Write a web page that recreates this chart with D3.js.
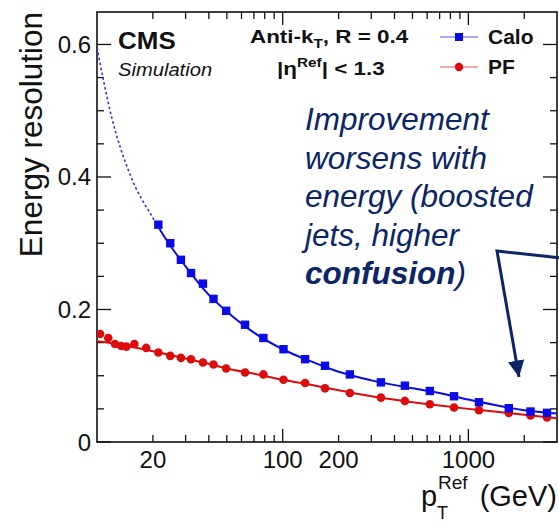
<!DOCTYPE html>
<html lang="en">
  <head>
    <meta charset="UTF-8" />
    <title>Jet energy resolution: Calo vs PF</title>
    <style>
      body {
        margin: 0;
        background: #fff;
      }
      svg text {
        font-family: "Liberation Sans", Arial, Helvetica, sans-serif;
        fill: #111;
      }
      .frame {
        fill: none;
        stroke: #111;
        stroke-width: 1.6px;
      }
      .tick {
        stroke: #111;
        stroke-width: 1.3px;
      }
      .note {
        fill: #0b2566;
        font-style: italic;
        font-size: 31.5px;
      }
    </style>
  </head>
  <body>
    <svg width="559" height="522"></svg>

    <script src="https://d3js.org/d3.v7.min.js"></script>
    <script>
      // PF jets (red circles)
      const pfPt = [10.4, 11.5, 12.5, 13.5, 14.4, 15.9, 18.4, 21.4, 24.8, 28.3, 32.1, 37.2, 42.4, 49.6,
        62.7, 78.7, 101, 132, 169, 230, 338, 455, 620, 837, 1140, 1650, 2160, 2650];
      const pfRes = [0.163, 0.157, 0.148, 0.145, 0.144, 0.148, 0.142, 0.135, 0.130, 0.127, 0.125, 0.120, 0.117, 0.111,
        0.105, 0.102, 0.094, 0.089, 0.081, 0.074, 0.067, 0.062, 0.057, 0.052, 0.048, 0.044, 0.040, 0.037];

      // Calo jets (blue squares)
      const caloPt = [21.4, 24.8, 28.3, 32.1, 37.2, 42.4, 49.6, 62.7, 78.7, 101, 132, 169, 230, 338,
        455, 620, 837, 1140, 1650, 2160, 2650];
      const caloRes = [0.328, 0.300, 0.275, 0.255, 0.239, 0.216, 0.198, 0.177, 0.157, 0.140, 0.125, 0.115, 0.102, 0.090,
        0.085, 0.077, 0.069, 0.060, 0.051, 0.046, 0.044];

      // fitted curves
      const fitPt = [10, 12, 15, 20, 25, 30, 40, 50, 70, 100, 150, 200, 300, 500, 700, 1000, 1500, 2000, 3000];
      const caloFit = [0.595, 0.49, 0.405, 0.338, 0.295, 0.265, 0.222, 0.197, 0.165, 0.140, 0.119, 0.106, 0.093,
        0.081, 0.074, 0.064, 0.054, 0.048, 0.043];
      const pfFit = [0.152, 0.149, 0.144, 0.137, 0.131, 0.126, 0.118, 0.111, 0.103, 0.094, 0.085, 0.078, 0.069,
        0.060, 0.055, 0.050, 0.045, 0.041, 0.036];

      const xMajor = [100, 1000];
      const xMinor = [20, 30, 40, 50, 60, 70, 80, 90, 200, 300, 400, 500, 600, 700, 800, 900, 2000];
      const xLabels = [20, 100, 200, 1000];
      const yMajor = [0, 0.2, 0.4, 0.6];
      const yMinor = [0.05, 0.1, 0.15, 0.25, 0.3, 0.35, 0.45, 0.5, 0.55];

      const noteLines = ["Improvement", "worsens with", "energy (boosted", "jets, higher"];

      const blue = "#0a0ae6",
        red = "#dc0c0c",
        navy = "#0b2566";

      const frameL = 97,
        frameR = 557,
        frameT = 12,
        frameB = 442;

      const svg = d3.select("svg");

      const x = d3.scaleLog().domain([10, 3000]).range([frameL, frameR]);
      const y = d3.scaleLinear().domain([0, 0.649]).range([frameB, frameT]);

      // clip regions: dotted fit below first calo point, solid above
      const defs = svg.append("defs");
      const cut = x(caloPt[0]);
      defs.append("clipPath").attr("id", "plot")
        .append("rect").attr("x", frameL).attr("y", frameT)
        .attr("width", frameR - frameL).attr("height", frameB - frameT);
      defs.append("clipPath").attr("id", "lowPt")
        .append("rect").attr("x", frameL).attr("y", frameT)
        .attr("width", cut - frameL).attr("height", frameB - frameT);
      defs.append("clipPath").attr("id", "highPt")
        .append("rect").attr("x", cut).attr("y", frameT)
        .attr("width", frameR - cut).attr("height", frameB - frameT);
      defs.append("marker")
        .attr("id", "head")
        .attr("viewBox", "0 0 10 10")
        .attr("refX", 10)
        .attr("refY", 5)
        .attr("markerWidth", 5.5)
        .attr("markerHeight", 5.5)
        .attr("markerUnits", "strokeWidth")
        .attr("orient", "auto")
        .append("path")
        .attr("d", "M0,0 L10,5 L0,10 Z")
        .attr("fill", navy);

      // ticks, all four sides
      const ticks = svg.append("g");
      function xTicks(vals, len) {
        ticks.selectAll(null).data(vals).join("line").attr("class", "tick")
          .attr("x1", (d) => x(d)).attr("x2", (d) => x(d))
          .attr("y1", frameB).attr("y2", frameB - len);
        ticks.selectAll(null).data(vals).join("line").attr("class", "tick")
          .attr("x1", (d) => x(d)).attr("x2", (d) => x(d))
          .attr("y1", frameT).attr("y2", frameT + len);
      }
      function yTicks(vals, len) {
        ticks.selectAll(null).data(vals).join("line").attr("class", "tick")
          .attr("y1", (d) => y(d)).attr("y2", (d) => y(d))
          .attr("x1", frameL).attr("x2", frameL + len);
        ticks.selectAll(null).data(vals).join("line").attr("class", "tick")
          .attr("y1", (d) => y(d)).attr("y2", (d) => y(d))
          .attr("x1", frameR).attr("x2", frameR - len);
      }
      xTicks(xMajor, 13);
      xTicks(xMinor, 7);
      yTicks(yMajor, 14);
      yTicks(yMinor, 7);

      svg.append("rect").attr("class", "frame")
        .attr("x", frameL).attr("y", frameT)
        .attr("width", frameR - frameL).attr("height", frameB - frameT);

      // tick labels
      svg.append("g").selectAll("text").data(xLabels).join("text")
        .attr("x", (d) => x(d)).attr("y", 468)
        .attr("text-anchor", "middle").attr("font-size", 24)
        .text((d) => d);
      svg.append("g").selectAll("text").data(yMajor).join("text")
        .attr("x", 91).attr("y", (d) => y(d) + 8.5)
        .attr("text-anchor", "end").attr("font-size", 24)
        .text((d) => (d === 0 ? "0" : d.toFixed(1)));

      // axis titles
      svg.append("text")
        .attr("transform", "translate(42,12) rotate(-90)")
        .attr("text-anchor", "end").attr("font-size", 31.5)
        .text("Energy resolution");
      svg.append("text").attr("x", 421).attr("y", 506).attr("font-size", 29).text("p");
      svg.append("text").attr("x", 438).attr("y", 489).attr("font-size", 19).text("Ref");
      svg.append("text").attr("x", 437).attr("y", 519).attr("font-size", 18).text("T");
      svg.append("text").attr("x", 557).attr("y", 506).attr("text-anchor", "end")
        .attr("font-size", 29).text("(GeV)");

      // fitted curves
      const line = (vals) =>
        d3.line().x((d, i) => x(fitPt[i])).y((d) => y(d)).curve(d3.curveMonotoneX)(vals);
      const plot = svg.append("g").attr("clip-path", "url(#plot)");
      plot.append("path").attr("d", line(caloFit)).attr("clip-path", "url(#lowPt)")
        .attr("fill", "none").attr("stroke", "#3030e0").attr("stroke-width", 1.6)
        .attr("stroke-dasharray", "2.5,2.5");
      plot.append("path").attr("d", line(caloFit)).attr("clip-path", "url(#highPt)")
        .attr("fill", "none").attr("stroke", blue).attr("stroke-width", 2);
      plot.append("path").attr("d", line(pfFit))
        .attr("fill", "none").attr("stroke", red).attr("stroke-width", 2);

      // markers
      plot.append("g").selectAll("circle").data(pfRes).join("circle")
        .attr("cx", (d, i) => x(pfPt[i])).attr("cy", (d) => y(d))
        .attr("r", 4.3).attr("fill", red);
      plot.append("g").selectAll("rect").data(caloRes).join("rect")
        .attr("x", (d, i) => x(caloPt[i]) - 4.2).attr("y", (d) => y(d) - 4.2)
        .attr("width", 8.4).attr("height", 8.4).attr("fill", blue);

      // CMS label (the ROOT part of the picture is a little stretched sideways)
      svg.append("text").attr("transform", "translate(118,49) scale(1.13,1)")
        .attr("font-size", 23).attr("font-weight", "bold").text("CMS");
      svg.append("text").attr("transform", "translate(118,76) scale(1.12,1)")
        .attr("font-size", 18).attr("font-style", "italic").text("Simulation");

      // jet selection
      const sel = svg.append("text").attr("transform", "translate(250,43) scale(1.18,1)")
        .attr("font-size", 19).attr("font-weight", "bold");
      sel.append("tspan").text("Anti-k");
      sel.append("tspan").attr("font-size", 13).attr("dy", 5).text("T");
      sel.append("tspan").attr("dy", -5).text(", R = 0.4");
      const eta = svg.append("text").attr("transform", "translate(277,75) scale(1.18,1)")
        .attr("font-size", 19).attr("font-weight", "bold");
      eta.append("tspan").text("|η");
      eta.append("tspan").attr("font-size", 13).attr("dy", -8).text("Ref");
      eta.append("tspan").attr("dy", 8).text("| < 1.3");

      // legend
      const legend = [
        { name: "Calo", color: blue, y: 37 },
        { name: "PF", color: red, y: 67 },
      ];
      const lg = svg.append("g").selectAll("g").data(legend).join("g");
      lg.append("line").attr("x1", 440).attr("x2", 478).attr("y1", (d) => d.y).attr("y2", (d) => d.y)
        .attr("stroke", (d) => d.color).attr("stroke-width", 1).attr("opacity", 0.7);
      lg.filter((d) => d.name === "Calo").append("rect")
        .attr("x", 455).attr("y", (d) => d.y - 4).attr("width", 8).attr("height", 8).attr("fill", blue);
      lg.filter((d) => d.name === "PF").append("circle")
        .attr("cx", 459).attr("cy", (d) => d.y).attr("r", 4.2).attr("fill", red);
      lg.append("text").attr("x", 488).attr("y", (d) => d.y + 7)
        .attr("font-size", 21).attr("font-weight", "bold").text((d) => d.name);

      // annotation
      const note = svg.append("text").attr("class", "note");
      noteLines.forEach((t, i) => {
        note.append("tspan").attr("x", 305).attr("y", 130 + i * 38.5).text(t);
      });
      const last = note.append("tspan").attr("x", 305).attr("y", 130 + 4 * 38.5);
      last.append("tspan").attr("font-weight", "bold").text("confusion");
      last.append("tspan").text(")");

      svg.append("polyline")
        .attr("points", "562,258 497,251 519,377")
        .attr("fill", "none").attr("stroke", navy).attr("stroke-width", 3)
        .attr("stroke-linejoin", "miter")
        .attr("marker-end", "url(#head)");
    </script>
  </body>
</html>
